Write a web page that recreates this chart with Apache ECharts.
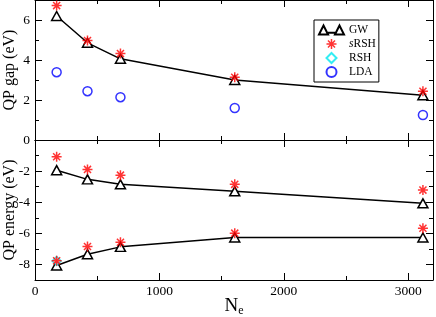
<!DOCTYPE html>
<html><head><meta charset="utf-8">
<script src="https://cdn.jsdelivr.net/npm/echarts@6/dist/echarts.min.js"></script>
<style>html,body{margin:0;padding:0;background:#fff}#c{width:436px;height:317px}</style>
</head><body><div id="c"></div>
<script>
// ---- data ----
const nElectrons = [174, 422, 687, 1606, 3119];
const gapGW   = [6.20, 4.86, 4.06, 3.00, 2.24];
const gapSRSH = [6.72, 4.97, 4.32, 3.14, 2.44];
const gapLDA  = [3.39, 2.44, 2.14, 1.60, 1.25];
const lumoGW   = [-1.94, -2.53, -2.85, -3.30, -4.07];
const lumoSRSH = [-1.08, -1.89, -2.26, -2.85, -3.22];
const homoGW   = [-8.07, -7.34, -6.87, -6.27, -6.27];
const homoSRSH = [-7.77, -6.85, -6.57, -5.99, -5.67];
const rshX     = [174];
const homoRSH  = [-7.78];
const xMajorTicks = [0, 1000, 2000, 3000];
const xMinorTicks = [500, 1500, 2500];
const gapMajorTicks = [0, 2, 4, 6];
const gapMinorTicks = [1, 3, 5];
const enMajorTicks = [-8, -6, -4, -2];
const enMinorTicks = [-7, -5, -3, -1];

const FONT = 'Liberation Serif';
const pairs = (xs, ys) => xs.map((x, i) => [x, ys[i]]);

const STAR = 'path://M0 8.5L20 8.5L20 11.5L0 11.5Z M8.5 0L11.5 0L11.5 20L8.5 20Z M3.99 1.87L18.13 16.01L16.01 18.13L1.87 3.99Z M16.01 1.87L18.13 3.99L3.99 18.13L1.87 16.01Z';
const DIAMOND = 'path://M5 0L10 5L5 10L0 5Z';
const GWICON = 'path://M0.75 9.25L5 0.75L9.25 9.25Z M15.75 9.25L20 0.75L24.25 9.25Z M9.25 7.5L15.75 7.5';

const xAxes = [], yAxes = [];
[0, 1].forEach(g => {
  ['bottom', 'top'].forEach(pos => {
    [true, false].forEach(major => {
      const showLab = major && g === 1 && pos === 'bottom';
      const ax = {
        type: 'value', gridIndex: g, position: pos, min: 0, max: 3200, offset: 0,
        axisLine: { show: major, onZero: false, lineStyle: { color: '#000', width: 1 } },
        axisTick: { show: true, inside: true, length: major ? 7 : 4,
          customValues: major ? xMajorTicks : xMinorTicks, lineStyle: { color: '#000', width: 1 } },
        axisLabel: { show: showLab, customValues: xMajorTicks, margin: 4,
          formatter: v => String(v),
          fontFamily: FONT, fontSize: 13.5, color: '#000' },
        splitLine: { show: false }
      };
      if (showLab) {
        ax.name = 'N{sub|e}';
        ax.nameLocation = 'middle';
        ax.nameGap = 15;
        ax.nameMoveOverlap = false;
        ax.nameTextStyle = { fontFamily: FONT, fontSize: 19, color: '#000',
          rich: { sub: { fontFamily: FONT, fontSize: 12, color: '#000', padding: [10, 0, 0, 0] } } };
      }
      xAxes.push(ax);
    });
  });
  ['left', 'right'].forEach(pos => {
    [true, false].forEach(major => {
      const showLab = major && pos === 'left';
      const ax = {
        type: 'value', gridIndex: g, position: pos, offset: 0,
        min: g === 0 ? 0 : -9, max: g === 0 ? 7 : 0,
        axisLine: { show: major, onZero: false, lineStyle: { color: '#000', width: 1 } },
        axisTick: { show: true, inside: true, length: major ? 7 : 4,
          customValues: g === 0 ? (major ? gapMajorTicks : gapMinorTicks) : (major ? enMajorTicks : enMinorTicks),
          lineStyle: { color: '#000', width: 1 } },
        axisLabel: { show: showLab, customValues: g === 0 ? gapMajorTicks : enMajorTicks, margin: 5,
          formatter: v => String(v),
          fontFamily: FONT, fontSize: 13.5, color: '#000' },
        splitLine: { show: false }
      };
      if (showLab) {
        ax.name = g === 0 ? 'QP gap (eV)' : 'QP energy (eV)';
        ax.nameLocation = 'middle';
        ax.nameGap = 17;
        ax.nameMoveOverlap = false;
        ax.nameTextStyle = { fontFamily: FONT, fontSize: 16, color: '#000' };
      }
      yAxes.push(ax);
    });
  });
});

const gwStyle = (xi, yi, data) => ({
  name: 'GW', type: 'line', xAxisIndex: xi, yAxisIndex: yi, data,
  symbol: 'triangle', symbolSize: [10, 9], z: 2,
  lineStyle: { color: '#000', width: 1.5 },
  itemStyle: { color: '#fff', borderColor: '#000', borderWidth: 1.5 }
});
const srshStyle = (xi, yi, data) => ({
  name: 'sRSH', type: 'scatter', xAxisIndex: xi, yAxisIndex: yi, data,
  symbol: STAR, symbolSize: 10, z: 5,
  itemStyle: { color: '#ff0000' }
});

const option = {
  animation: false,
  backgroundColor: '#fff',
  grid: [
    { left: 35, right: 3, top: 0, height: 140, containLabel: false, outerBoundsMode: 'none' },
    { left: 35, right: 3, top: 140, height: 140, containLabel: false, outerBoundsMode: 'none' }
  ],
  xAxis: xAxes,
  yAxis: yAxes,
  legend: {
    orient: 'vertical', left: 314, top: 20, padding: [4, 3, 4, 4],
    itemWidth: 25, itemHeight: 10, itemGap: 2,
    backgroundColor: '#fff', borderColor: '#000', borderWidth: 1, borderRadius: 0,
    data: [
      { name: 'GW', icon: GWICON },
      { name: 'sRSH', icon: STAR },
      { name: 'RSH', icon: DIAMOND },
      { name: 'LDA', icon: 'circle' }
    ],
    formatter: n => n === 'sRSH' ? '{i|s}RSH' : n,
    textStyle: { fontFamily: FONT, fontSize: 11.5, color: '#000',
      rich: { i: { fontFamily: FONT, fontSize: 11.5, fontStyle: 'italic', color: '#000' } } }
  },
  series: [
    gwStyle(0, 0, pairs(nElectrons, gapGW)),
    srshStyle(0, 0, pairs(nElectrons, gapSRSH)),
    { name: 'LDA', type: 'scatter', xAxisIndex: 0, yAxisIndex: 0, data: pairs(nElectrons, gapLDA),
      symbol: 'circle', symbolSize: 9, z: 3,
      itemStyle: { color: 'rgba(255,255,255,0)', borderColor: '#0000ff', borderWidth: 1.5 } },
    gwStyle(4, 4, pairs(nElectrons, lumoGW)),
    gwStyle(4, 4, pairs(nElectrons, homoGW)),
    { name: 'RSH', type: 'scatter', xAxisIndex: 4, yAxisIndex: 4, data: pairs(rshX, homoRSH),
      symbol: DIAMOND, symbolSize: 9, z: 4,
      itemStyle: { color: '#fff', borderColor: '#00e8f0', borderWidth: 1.5 } },
    srshStyle(4, 4, pairs(nElectrons, lumoSRSH)),
    srshStyle(4, 4, pairs(nElectrons, homoSRSH))
  ]
};
echarts.init(document.getElementById('c'), null, { renderer: 'canvas' }).setOption(option);
</script></body></html>
